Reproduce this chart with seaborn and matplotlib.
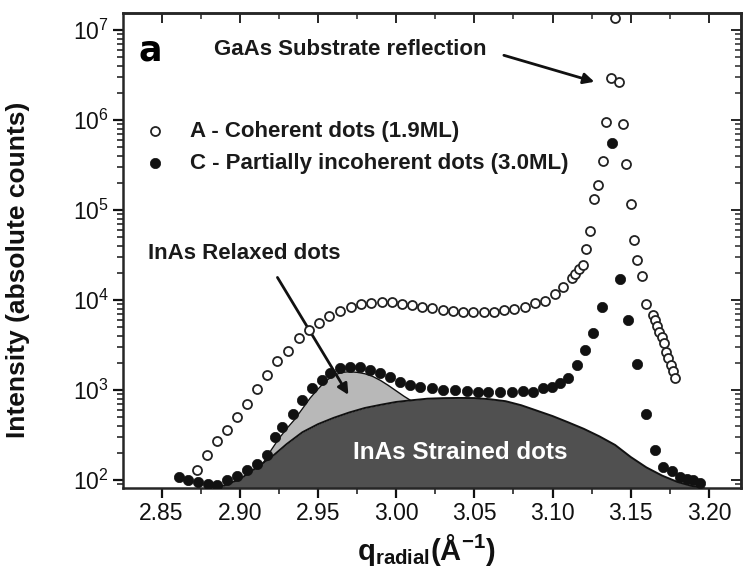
import numpy as np
import pandas as pd
import matplotlib
matplotlib.use("Agg")
import matplotlib.pyplot as plt
import seaborn as sns
from matplotlib.ticker import MultipleLocator, LogLocator, FuncFormatter, NullFormatter, LogFormatterMathtext

# ---------------- data ----------------
qA = [2.8725, 2.8793, 2.8857, 2.8921, 2.8985, 2.9049, 2.9113, 2.9176, 2.9240, 2.9309,
      2.9377, 2.9443, 2.9507, 2.9573, 2.9641, 2.9710, 2.9774, 2.9838, 2.9908, 2.9972,
      3.0036, 3.0104, 3.0168, 3.0231, 3.0302, 3.0366, 3.0430, 3.0494, 3.0562, 3.0626,
      3.0690, 3.0754, 3.0824, 3.0888, 3.0952, 3.1016, 3.1069, 3.1123, 3.1144, 3.1171,
      3.1193, 3.1214, 3.1240, 3.1265, 3.1293, 3.1321, 3.1342, 3.1374, 3.1400, 3.1427,
      3.1449, 3.1472, 3.1500, 3.1523, 3.1543, 3.1570, 3.1598, 3.1645, 3.1655, 3.1666,
      3.1683, 3.1698, 3.1713, 3.1726, 3.1740, 3.1756, 3.1772, 3.1783]
iA = [128, 188, 271, 356, 501, 695, 1014, 1462, 2109, 2729,
      3750, 4645, 5508, 6653, 7551, 8433, 8974, 9354, 9441, 9441,
      9036, 8810, 8433, 8110, 7762, 7551, 7430, 7311, 7311, 7430,
      7762, 7962, 8433, 9204, 9840, 11750, 14090, 17500, 19540, 22030,
      24600, 36800, 57800, 1.33e5, 1.87e5, 3.49e5, 9.35e5, 2.9e6, 1.35e7, 2.61e6,
      8.95e5, 3.2e5, 1.15e5, 45900, 27500, 18240, 9060, 6820, 6000, 5140,
      4446, 3846, 3296, 2660, 2244, 1888, 1633, 1343]

qC = [2.8614, 2.8671, 2.8735, 2.8799, 2.8857, 2.8917, 2.8981, 2.9045, 2.9109, 2.9173,
      2.9226, 2.9269, 2.9343, 2.9396, 2.9460, 2.9524, 2.9577, 2.9641, 2.9705, 2.9769,
      2.9833, 2.9897, 2.9961, 3.0025, 3.0089, 3.0153, 3.0228, 3.0302, 3.0377, 3.0451,
      3.0526, 3.0590, 3.0664, 3.0739, 3.0813, 3.0877, 3.0941, 3.0995, 3.1048, 3.1101,
      3.1155, 3.1208, 3.1261, 3.1315, 3.1378, 3.1432, 3.1485, 3.1538, 3.1598, 3.1655,
      3.1708, 3.1762, 3.1815, 3.1858, 3.1900, 3.1943]
iC = [107, 99, 94, 91, 87, 99, 112, 128, 152, 188,
      300, 388, 547, 769, 1040, 1285, 1552, 1738, 1811, 1782,
      1663, 1528, 1400, 1230, 1130, 1084, 1040, 995, 995, 977,
      953, 953, 953, 953, 977, 953, 1040, 1084, 1180, 1343,
      1892, 2780, 4335, 8433, 5.5e5, 17060, 6000, 1940, 547, 213,
      139, 125, 107, 103, 99, 92]

# fitted components
fit_q = [2.880, 2.890, 2.900, 2.910, 2.920, 2.930, 2.940, 2.950, 2.960, 2.970, 2.980,
         2.990, 3.000, 3.010, 3.020, 3.030, 3.040, 3.050, 3.060, 3.070, 3.080, 3.090,
         3.100, 3.110, 3.120, 3.130, 3.140, 3.150, 3.160, 3.170, 3.180, 3.190, 3.197]
strained = [81, 87, 102, 135, 178, 251, 339, 417, 490, 562, 631,
            684, 736, 769, 800, 811, 815, 813, 789, 750, 676, 589,
            513, 437, 370, 305, 245, 180, 138, 112, 95, 85, 81]

rel_q = [2.915, 2.920, 2.925, 2.930, 2.935, 2.940, 2.945, 2.950, 2.955, 2.960,
         2.965, 2.970, 2.975, 2.980, 2.985, 2.990, 2.995, 3.000, 3.005, 3.009]
rel_top = [155, 214, 288, 372, 468, 617, 813, 1023, 1259, 1445,
           1567, 1592, 1570, 1514, 1413, 1274, 1122, 977, 851, 770]
rel_low = [155, 178, 212, 251, 292, 339, 377, 417, 452, 490,
           525, 562, 596, 631, 657, 684, 710, 736, 752, 766]

label_A = "A - Coherent dots (1.9ML)"
label_C = "C - Partially incoherent dots (3.0ML)"

# ---------------- style ----------------
sns.set_theme(style="ticks")
plt.rcParams["font.family"] = ["Liberation Sans", "DejaVu Sans"]
plt.rcParams["mathtext.fontset"] = "custom"
plt.rcParams["mathtext.rm"] = "Liberation Sans"
plt.rcParams["mathtext.it"] = "Liberation Sans"
plt.rcParams["mathtext.bf"] = "Liberation Sans:bold"
plt.rcParams["axes.linewidth"] = 1.8

fig = plt.figure(figsize=(7.44, 5.75), dpi=100)
L, R, T, B = 123, 741, 12.7, 488
ax = fig.add_axes([L / 744, 1 - B / 575, (R - L) / 744, (B - T) / 575])
ax.set_yscale("log")
ymin, ymax = 81.5, 10 ** 7.19
ax.set_ylim(ymin, ymax)
ax.set_xlim(2.8253, 3.2205)

# filled components
ax.fill_between(fit_q, ymin, strained, color="#505050", lw=0, zorder=1)
ax.plot(fit_q, strained, color="#111111", lw=1.4, zorder=2)
ax.fill_between(rel_q, rel_low, rel_top, color="#b8b8b8", lw=0, zorder=1)
ax.plot(rel_q, rel_top, color="#111111", lw=1.0, zorder=2)

dfA = pd.DataFrame({"q": qA, "I": iA})
dfC = pd.DataFrame({"q": qC, "I": iC})
sns.scatterplot(data=dfC, x="q", y="I", ax=ax, marker="o", s=55, color="#111111",
                edgecolor="#111111", linewidth=0.5, label=label_C, zorder=4)
sns.scatterplot(data=dfA, x="q", y="I", ax=ax, marker="o", s=42, color="white",
                edgecolor="#222222", linewidth=1.3, label=label_A, zorder=5)

# ticks
ax.xaxis.set_major_locator(MultipleLocator(0.05))
ax.xaxis.set_minor_locator(MultipleLocator(0.025))
ax.xaxis.set_major_formatter(FuncFormatter(lambda v, p: f"{v:.2f}"))
ax.yaxis.set_major_locator(LogLocator(base=10, numticks=12))
ax.yaxis.set_minor_locator(LogLocator(base=10, subs=np.arange(2, 10), numticks=12))
ax.yaxis.set_major_formatter(LogFormatterMathtext())
ax.yaxis.set_minor_formatter(NullFormatter())
ax.tick_params(axis="both", which="major", direction="out", length=7, width=1.6,
               labelsize=16.5, colors="#111111", pad=3)
ax.tick_params(axis="both", which="minor", direction="out", length=4, width=1.2)
sec_x = ax.secondary_xaxis("top")
sec_y = ax.secondary_yaxis("right")
for a in (sec_x, sec_y):
    a.tick_params(which="major", direction="in", length=7, width=1.4)
    a.tick_params(which="minor", direction="in", length=4, width=1.1)
    for s in a.spines.values():
        s.set_linewidth(1.8)
sec_x.xaxis.set_major_locator(MultipleLocator(0.05))
sec_x.xaxis.set_minor_locator(MultipleLocator(0.025))
sec_x.xaxis.set_major_formatter(NullFormatter())
sec_y.yaxis.set_major_formatter(NullFormatter())
sec_y.yaxis.set_minor_formatter(NullFormatter())

ax.set_ylabel("Intensity (absolute counts)", fontsize=19, fontweight="bold", color="#111111")
ax.yaxis.set_label_coords(-0.15, 0.46)
ax.set_xlabel(r"$\mathbf{q_{radial}}$" + r"$\mathbf{(\AA^{-1})}$", fontsize=21, color="#111111")
ax.xaxis.set_label_coords(0.49, -0.092)

leg = ax.legend(handles=ax.collections[::-1][:2], labels=[label_A, label_C],
                loc="upper left", bbox_to_anchor=(0.033, 0.773), frameon=False,
                prop={"weight": "bold", "size": 16}, handletextpad=1.1,
                labelspacing=0.5, borderaxespad=0, borderpad=0, handlelength=1.0)
for t in leg.get_texts():
    t.set_color("#1a1a1a")

# annotations
ax.text(0.044, 0.921, "a", transform=ax.transAxes, fontsize=25, fontweight="bold",
        family="DejaVu Sans", ha="center", va="center", color="black")
ax.text(0.367, 0.923, "GaAs Substrate reflection", transform=ax.transAxes, fontsize=16,
        fontweight="bold", ha="center", va="center", color="#1a1a1a")
ax.annotate("", xy=(0.767, 0.853), xytext=(0.612, 0.912), xycoords="axes fraction",
            arrowprops=dict(arrowstyle="-|>", lw=2.0, color="#111111", mutation_scale=16))
ax.text(0.196, 0.494, "InAs Relaxed dots", transform=ax.transAxes, fontsize=16,
        fontweight="bold", ha="center", va="center", color="#1a1a1a")
ax.annotate("", xy=(0.367, 0.191), xytext=(0.2476, 0.448), xycoords="axes fraction",
            arrowprops=dict(arrowstyle="-|>", lw=2.0, color="#111111", mutation_scale=16))
ax.text(0.545, 0.074, "InAs Strained dots", transform=ax.transAxes, fontsize=17.5,
        fontweight="bold", ha="center", va="center", color="white", zorder=6)

fig.savefig("out.png", dpi=100)
